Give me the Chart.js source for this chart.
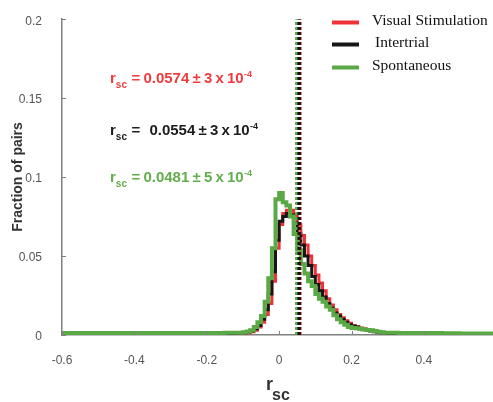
<!DOCTYPE html>
<html>
<head>
<meta charset="utf-8">
<script src="https://cdn.jsdelivr.net/npm/chart.js@4.4.1/dist/chart.umd.min.js"></script>
<style>
  html, body { margin: 0; padding: 0; background: #fff; }
  #wrap { width: 493px; height: 402px; }
</style>
</head>
<body>
<div id="wrap"><canvas id="rscChart" width="493" height="402"></canvas></div>
<script>
// left edges of the histogram bins (last entry closes the final bin)
const binEdges = [
  -0.60, -0.50, -0.40, -0.30, -0.20, -0.15, -0.12,
  -0.10, -0.09, -0.08, -0.07, -0.06, -0.05, -0.04, -0.03, -0.02, -0.01,
  0.00, 0.01, 0.02, 0.03, 0.04, 0.05, 0.06, 0.07, 0.08, 0.09,
  0.10, 0.11, 0.12, 0.13, 0.14, 0.15, 0.16, 0.17, 0.18, 0.19,
  0.20, 0.21, 0.22, 0.23, 0.24, 0.25, 0.26, 0.27, 0.28, 0.29,
  0.30, 0.33, 0.36, 0.40, 0.45, 0.50, 0.60
];

const visualValues = [
  0.0006, 0.0006, 0.0006, 0.0006, 0.0007, 0.0008, 0.0010,
  0.0012, 0.0015, 0.0020, 0.0030, 0.0050, 0.0080, 0.0130, 0.0200, 0.0340, 0.0550,
  0.0700, 0.0770, 0.0790, 0.0790, 0.0760, 0.0700, 0.0630, 0.0570, 0.0500, 0.0440,
  0.0380, 0.0330, 0.0280, 0.0230, 0.0190, 0.0160, 0.0130, 0.0110, 0.0090, 0.0075,
  0.0060, 0.0052, 0.0045, 0.0040, 0.0035, 0.0030, 0.0025, 0.0020, 0.0016, 0.0013,
  0.0011, 0.0009, 0.0008, 0.0007, 0.0007, 0.0006, 0.0006
];

const intertrialValues = [
  0.0008, 0.0008, 0.0008, 0.0008, 0.0009, 0.0010, 0.0012,
  0.0015, 0.0020, 0.0025, 0.0040, 0.0060, 0.0100, 0.0160, 0.0260, 0.0400, 0.0600,
  0.0720, 0.0750, 0.0770, 0.0760, 0.0710, 0.0640, 0.0570, 0.0500, 0.0440, 0.0370,
  0.0320, 0.0280, 0.0240, 0.0200, 0.0170, 0.0140, 0.0120, 0.0100, 0.0080, 0.0065,
  0.0055, 0.0050, 0.0040, 0.0035, 0.0030, 0.0025, 0.0020, 0.0017, 0.0014, 0.0012,
  0.0010, 0.0009, 0.0008, 0.0008, 0.0007, 0.0007, 0.0007
];

const spontaneousValues = [
  0.0012, 0.0012, 0.0012, 0.0012, 0.0013, 0.0014, 0.0015,
  0.0018, 0.0022, 0.0030, 0.0050, 0.0080, 0.0120, 0.0210, 0.0360, 0.0550, 0.0860,
  0.0900, 0.0840, 0.0820, 0.0750, 0.0640, 0.0540, 0.0450, 0.0390, 0.0340, 0.0310,
  0.0260, 0.0230, 0.0210, 0.0180, 0.0160, 0.0125, 0.0100, 0.0080, 0.0065, 0.0050,
  0.0045, 0.0042, 0.0040, 0.0035, 0.0032, 0.0030, 0.0025, 0.0020, 0.0018, 0.0015,
  0.0014, 0.0013, 0.0013, 0.0012, 0.0011, 0.0010, 0.0010
];

const seriesNames = ['Visual Stimulation', ' Intertrial', 'Spontaneous'];
const meanValues = [0.0574, 0.0554, 0.0481];
const meanTexts = ['= 0.0574 ± 3 x 10', '=  0.0554 ± 3 x 10', '= 0.0481 ± 5 x 10'];
const meanExponents = ['-4', '-4', '-4'];
const xTickValues = [-0.6, -0.4, -0.2, 0, 0.2, 0.4];
const yTickValues = [0, 0.05, 0.1, 0.15, 0.2];

const COLORS = ['#ee3237', '#161616', '#5ba846'];
const TEXT_COLORS = ['#ef3b3e', '#1c1c1c', '#62ad4c'];
const SANS = 'Arial, "Liberation Sans", sans-serif';
const SERIF = '"Times New Roman", "Liberation Serif", serif';

function histPoints(values) {
    return binEdges.map((x, i) => ({ x: x, y: values[i] }));
}

function meanLine(v) {
    return [{ x: v, y: 0 }, { x: v, y: 0.2 }];
}

function histDataset(i, values, width) {
    return {
        label: seriesNames[i],
        data: histPoints(values),
        borderColor: COLORS[i],
        borderWidth: width,
        stepped: true,
        pointRadius: 0,
        fill: false
    };
}

function meanDataset(i, width) {
    return {
        label: 'mean ' + seriesNames[i],
        data: meanLine(meanValues[i]),
        borderColor: COLORS[i],
        borderWidth: width,
        borderDash: [3, 2],
        pointRadius: 0,
        fill: false
    };
}

// draws the rsc annotations, legend, axis titles and inward tick marks
const decorations = {
    id: 'decorations',
    afterDraw(chart) {
        const ctx = chart.ctx;
        const xs = chart.scales.x;
        const ys = chart.scales.y;
        ctx.save();

        // inward tick marks
        ctx.strokeStyle = '#808080';
        ctx.lineWidth = 1;
        ctx.beginPath();
        xs.ticks.forEach(t => {
            const px = Math.round(xs.getPixelForValue(t.value)) + 0.5;
            ctx.moveTo(px, ys.bottom);
            ctx.lineTo(px, ys.bottom - 4);
        });
        ys.ticks.forEach(t => {
            const py = Math.round(ys.getPixelForValue(t.value)) + 0.5;
            ctx.moveTo(xs.left, py);
            ctx.lineTo(xs.left + 4, py);
        });
        ctx.stroke();

        // rsc annotations
        const baselines = [83, 135, 182];
        ctx.textAlign = 'left';
        ctx.textBaseline = 'alphabetic';
        meanTexts.forEach((txt, i) => {
            let x = 110;
            const y = baselines[i];
            ctx.fillStyle = TEXT_COLORS[i];
            ctx.font = 'bold 15px ' + SANS;
            ctx.fillText('r', x, y);
            x += ctx.measureText('r').width;
            ctx.font = 'bold 10px ' + SANS;
            ctx.fillText('sc', x, y + 5);
            x += ctx.measureText('sc').width + 4.5;
            ctx.font = 'bold 15px ' + SANS;
            txt.split(' ').forEach(tok => {
                if (tok === '') { x += 6; return; }
                ctx.fillText(tok, x, y);
                x += ctx.measureText(tok).width + 3.2;
            });
            x -= 3;
            ctx.font = 'bold 9px ' + SANS;
            ctx.fillText(meanExponents[i], x, y - 6);
        });

        // legend
        const legendY = [22.5, 44.5, 67.5];
        const textX = [372, 375, 372];
        seriesNames.forEach((name, i) => {
            ctx.strokeStyle = COLORS[i];
            ctx.lineWidth = 4;
            ctx.beginPath();
            ctx.moveTo(332, legendY[i]);
            ctx.lineTo(359, legendY[i]);
            ctx.stroke();
            ctx.fillStyle = '#111';
            ctx.font = '15.5px ' + SERIF;
            ctx.textBaseline = 'middle';
            ctx.fillText(name.trim(), textX[i], legendY[i] - 2);
        });

        // x title
        ctx.fillStyle = '#333';
        ctx.textBaseline = 'alphabetic';
        ctx.font = 'bold 18px ' + SANS;
        ctx.fillText('r', 266, 390);
        ctx.font = 'bold 16px ' + SANS;
        ctx.fillText('sc', 272, 400);

        // y title
        ctx.translate(18, 177);
        ctx.rotate(-Math.PI / 2);
        ctx.textAlign = 'center';
        ctx.textBaseline = 'middle';
        ctx.font = 'bold 14px ' + SANS;
        ctx.fillText('Fraction of pairs', 0, 0);

        ctx.restore();
    }
};

const chart = new Chart(document.getElementById('rscChart').getContext('2d'), {
    type: 'line',
    data: {
        datasets: [
            meanDataset(1, 3.5),
            meanDataset(0, 3.5),
            meanDataset(2, 3),
            histDataset(2, spontaneousValues, 4),
            histDataset(1, intertrialValues, 3),
            histDataset(0, visualValues, 3)
        ]
    },
    options: {
        responsive: false,
        animation: false,
        devicePixelRatio: 1,
        layout: { padding: { top: 15, right: 0, left: 0, bottom: 0 } },
        plugins: {
            legend: { display: false },
            tooltip: { enabled: false }
        },
        scales: {
            x: {
                type: 'linear',
                min: -0.6,
                max: 0.591,
                afterBuildTicks: (scale) => {
                    scale.ticks = xTickValues.map(v => ({ value: v }));
                },
                afterFit: (scale) => { scale.height = 67; },
                grid: { display: false },
                border: { display: true, color: '#808080', width: 1.5 },
                ticks: {
                    color: '#555',
                    font: { family: SANS, size: 12 },
                    padding: 10,
                    maxRotation: 0,
                    callback: (v) => String(v)
                }
            },
            y: {
                min: 0,
                max: 0.2,
                afterBuildTicks: (scale) => {
                    scale.ticks = yTickValues.map(v => ({ value: v }));
                },
                afterFit: (scale) => { scale.width = 62; },
                grid: { display: false },
                border: { display: true, color: '#808080', width: 1.5 },
                ticks: {
                    color: '#555',
                    font: { family: SANS, size: 12 },
                    padding: 12,
                    labelOffset: 2,
                    callback: (v) => String(v)
                }
            }
        }
    },
    plugins: [decorations]
});
</script>
</body>
</html>
